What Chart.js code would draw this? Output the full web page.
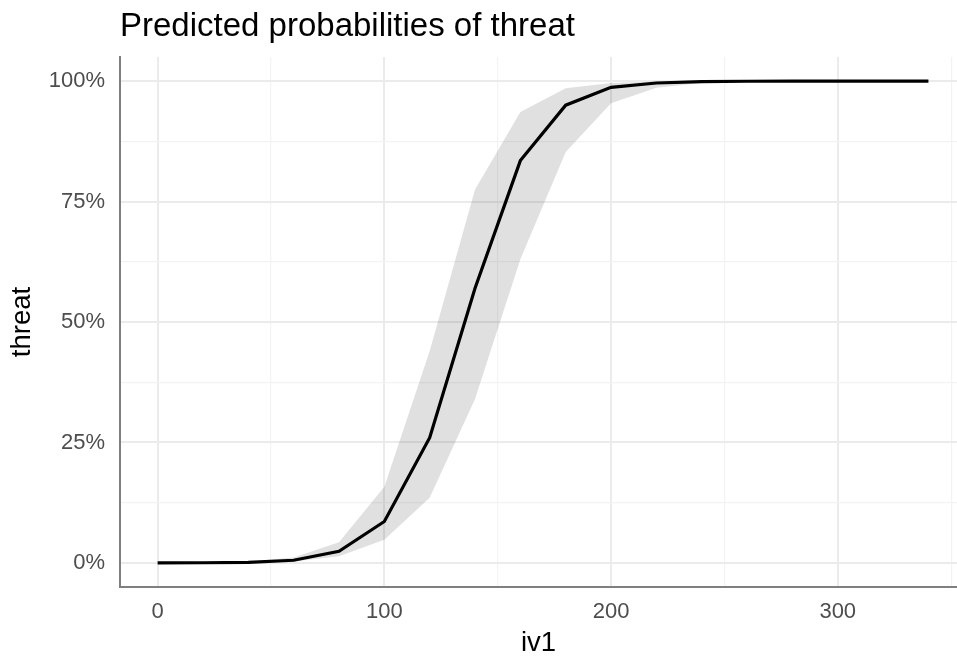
<!DOCTYPE html>
<html>
<head>
<meta charset="utf-8">
<script src="https://cdn.jsdelivr.net/npm/chart.js@4"></script>
<style>
  html, body { margin: 0; padding: 0; background: #fff; }
  #wrap { position: relative; width: 957px; height: 659px; }
</style>
</head>
<body>
<div id="wrap"><canvas id="c"></canvas></div>
<script>
const TITLE = "Predicted probabilities of threat";
const xValues = [0, 20, 40, 60, 80, 100, 120, 140, 160, 180, 200, 220, 240, 260, 280, 300, 320, 340];
const predicted = [0.01, 0.03, 0.12, 0.55, 2.4, 8.6, 26, 57, 83.5, 95, 98.7, 99.6, 99.9, 99.97, 99.99, 100, 100, 100];
const lowerCI = [0, 0.01, 0.05, 0.3, 1.4, 4.8, 13.5, 34, 63, 85.3, 95.4, 98.6, 99.6, 99.9, 99.97, 99.99, 100, 100];
const upperCI = [0.05, 0.1, 0.3, 1.1, 4.3, 15.8, 44, 77.5, 93.6, 98.5, 99.6, 99.9, 99.98, 100, 100, 100, 100, 100];
const xTicks = [0, 100, 200, 300];
const yTicks = [0, 25, 50, 75, 100];
const minorX = [50, 150, 250, 350];
const minorY = [12.5, 37.5, 62.5, 87.5];

const FONT = "'Liberation Sans', Arial, sans-serif";
const toPoints = arr => arr.map((v, i) => ({ x: xValues[i], y: v }));

// ggplot-style title, left aligned with the panel
const titlePlugin = {
  id: "ggTitle",
  afterDraw(chart) {
    const ctx = chart.ctx;
    ctx.save();
    ctx.font = "33px " + FONT;
    ctx.fillStyle = "#000";
    ctx.textBaseline = "alphabetic";
    ctx.textAlign = "left";
    ctx.fillText(TITLE, chart.chartArea.left, 36);
    ctx.restore();
  },
};

new Chart(document.getElementById("c"), {
  type: "line",
  data: {
    datasets: [
      {
        label: "predicted",
        data: toPoints(predicted),
        borderColor: "#000",
        borderWidth: 3.2,
        pointRadius: 0,
        fill: false,
        tension: 0,
      },
      {
        label: "upper",
        data: toPoints(upperCI),
        borderWidth: 0,
        borderColor: "rgba(0,0,0,0)",
        backgroundColor: "rgba(0,0,0,0.12)",
        pointRadius: 0,
        fill: "+1",
        tension: 0,
      },
      {
        label: "lower",
        data: toPoints(lowerCI),
        borderWidth: 0,
        borderColor: "rgba(0,0,0,0)",
        pointRadius: 0,
        fill: false,
        tension: 0,
      },
    ],
  },
  plugins: [titlePlugin],
  options: {
    responsive: true,
    maintainAspectRatio: false,
    animation: false,
    layout: { padding: { top: 57, right: 0, left: 0, bottom: 0 } },
    plugins: {
      legend: { display: false },
      tooltip: { enabled: false },
      title: { display: false },
    },
    scales: {
      x: {
        type: "linear",
        min: -16.6,
        max: 352.6,
        afterBuildTicks: s => {
          s.ticks = [...xTicks, ...minorX].filter(v => v > s.min && v < s.max).sort((a, b) => a - b).map(v => ({ value: v }));
        },
        afterFit: s => {
          s.height = 72;
          s.paddingLeft = 0;
          s.paddingRight = 0;
        },
        ticks: {
          autoSkip: false,
          maxRotation: 0,
          padding: 12,
          color: "#4d4d4d",
          font: { family: FONT, size: 22 },
          callback: v => (xTicks.includes(v) ? String(v) : ""),
        },
        grid: {
          drawTicks: false,
          color: c => (c.tick && xTicks.includes(c.tick.value) ? "#ebebeb" : "#f3f3f3"),
          lineWidth: c => (c.tick && xTicks.includes(c.tick.value) ? 2 : 1.2),
        },
        border: { display: true, color: "#7f7f7f", width: 2 },
        title: {
          display: true,
          text: "iv1",
          color: "#000",
          font: { family: FONT, size: 27.5, lineHeight: 1.1 },
          padding: { top: 0, bottom: 0 },
        },
      },
      y: {
        type: "linear",
        min: -5,
        max: 105,
        afterBuildTicks: s => {
          s.ticks = [...yTicks, ...minorY].sort((a, b) => a - b).map(v => ({ value: v }));
        },
        afterFit: s => {
          s.width = 120;
          s.paddingTop = 0;
          s.paddingBottom = 0;
        },
        ticks: {
          autoSkip: false,
          padding: 15,
          color: "#4d4d4d",
          font: { family: FONT, size: 22 },
          callback: v => (yTicks.includes(v) ? v + "%" : ""),
        },
        grid: {
          drawTicks: false,
          color: c => (c.tick && yTicks.includes(c.tick.value) ? "#ebebeb" : "#f3f3f3"),
          lineWidth: c => (c.tick && yTicks.includes(c.tick.value) ? 2 : 1.2),
        },
        border: { display: true, color: "#7f7f7f", width: 2 },
        title: {
          display: true,
          text: "threat",
          color: "#000",
          font: { family: FONT, size: 27.5 },
          padding: { top: 6, bottom: 0 },
        },
      },
    },
  },
});
</script>
</body>
</html>
